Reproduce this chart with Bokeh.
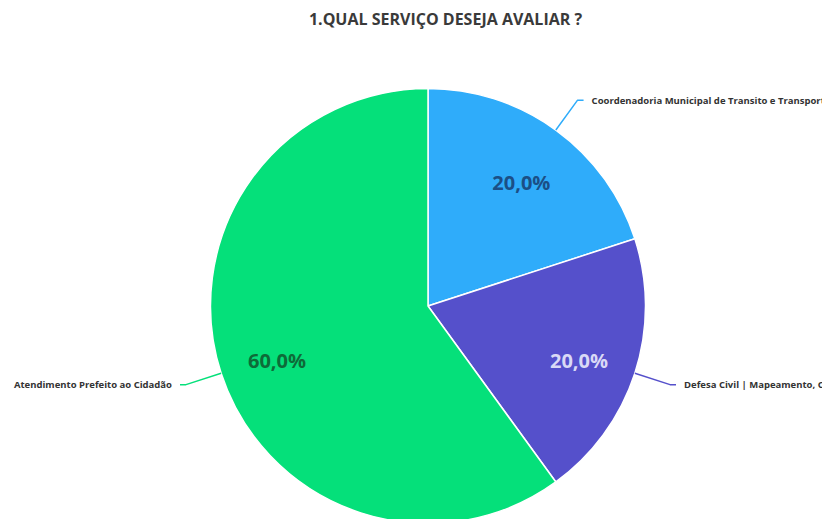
import numpy as np
from bokeh.plotting import figure
from bokeh.models import Range1d, ColumnDataSource
from bokeh.core.properties import value
from bokeh.embed import file_html
from bokeh.resources import INLINE

# ---- data ----
title_text = "1.QUAL SERVIÇO DESEJA AVALIAR ?"
categories = [
    "Coordenadoria Municipal de Transito e Transporte",
    "Defesa Civil | Mapeamento, Controle e Prevenção",
    "Atendimento Prefeito ao Cidadão",
]
values = [20.0, 20.0, 60.0]
colors = ["#2FACFA", "#5550CB", "#05E07A"]
pct_colors = ["#1B4F86", "#D9D9F6", "#0E6B38"]

W, H = 822, 519
cx, cy, R = 427.5, H - 305.5, 217.5

p = figure(width=W, height=H, output_backend="svg", toolbar_location=None,
           x_range=Range1d(0, W), y_range=Range1d(0, H),
           x_axis_type=None, y_axis_type=None, min_border=0,
           outline_line_color=None, background_fill_color="white")
p.grid.visible = False

vals = np.array(values)
frac = vals / vals.sum()
ang = frac * 2 * np.pi
ends = np.pi / 2 - np.cumsum(ang)
starts = ends + ang
mids = (starts + ends) / 2

src = ColumnDataSource(dict(start=starts, end=ends, color=colors))
p.wedge(x=cx, y=cy, radius=R, start_angle="end", end_angle="start",
        fill_color="color", line_color="white", line_width=1.5, source=src)

# percentage labels
lr = 0.73 * R
pct_src = ColumnDataSource(dict(
    x=cx + lr * np.cos(mids),
    y=cy + lr * np.sin(mids) - 5,
    t=[f"{v:.1f}%".replace(".", ",") for v in frac * 100],
    c=pct_colors,
))
p.text(x="x", y="y", text="t", text_color="c", source=pct_src,
       text_font=value("Open Sans"), text_font_style="bold",
       text_font_size="20px", text_align="center", text_baseline="middle")

# leader lines and outer labels
for m, col, name in zip(mids, colors, categories):
    x0, y0 = cx + R * np.cos(m), cy + R * np.sin(m)
    x1, y1 = cx + 1.17 * R * np.cos(m), cy + 1.17 * R * np.sin(m)
    right = np.cos(m) >= 0
    x2 = x1 + (6 if right else -6)
    p.line([x0, x1, x2], [y0, y1, y1], line_color=col, line_width=1.5)
    p.text(x=[x2 + (8 if right else -8)], y=[y1], text=[name],
           text_color="#333333", text_font=value("Open Sans"),
           text_font_style="bold", text_font_size="9.5px",
           text_align="left" if right else "right", text_baseline="middle")

# title
p.text(x=[445], y=[H - 18], text=[title_text], text_color="#3A3A3A",
       text_font=value("Open Sans"), text_font_style="bold",
       text_font_size="16px", text_align="center", text_baseline="middle")

open("out.html", "w").write(file_html(p, INLINE))
